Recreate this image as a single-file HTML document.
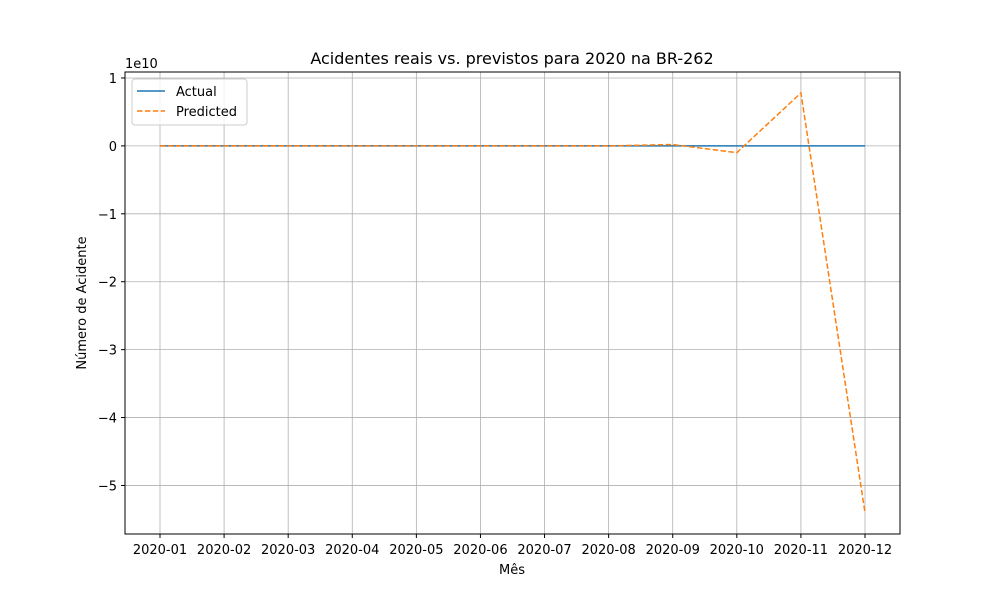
<!DOCTYPE html>
<html><head><meta charset="utf-8"><style>
body{margin:0;background:#fff;font-family:"Liberation Sans","DejaVu Sans",sans-serif}
</style></head><body>
<svg width="1000" height="600" xmlns="http://www.w3.org/2000/svg" font-family="DejaVu Sans, Liberation Sans, sans-serif">
<rect width="1000" height="600" fill="#fff"/>
<g id="grid"></g>
<g id="series"></g>
<rect x="125" y="72" width="775" height="462" fill="none" stroke="#000" stroke-width="1"/>
<g id="ticks" font-size="13"></g>
<text x="512" y="64" text-anchor="middle" font-size="16">Acidentes reais vs. previstos para 2020 na BR-262</text>
<text x="512" y="574" text-anchor="middle" font-size="13">Mês</text>
<text transform="translate(86,303) rotate(-90)" text-anchor="middle" font-size="13">Número de Acidente</text>
<text x="125" y="68" font-size="13">1e10</text>
<g>
<rect x="132" y="79" width="115" height="46" rx="3" fill="#fff" fill-opacity="0.8" stroke="#ccc"/>
<line x1="137" y1="91" x2="165" y2="91" stroke="#1f77b4" stroke-width="1.5"/>
<text x="176" y="96" font-size="13">Actual</text>
<line x1="137" y1="111" x2="165" y2="111" stroke="#ff7f0e" stroke-width="1.5" stroke-dasharray="5.5,2.4"/>
<text x="176" y="116" font-size="13">Predicted</text>
</g>
</svg>
<script>
const categories=["2020-01","2020-02","2020-03","2020-04","2020-05","2020-06","2020-07","2020-08","2020-09","2020-10","2020-11","2020-12"];
const actual=[0,0,0,0,0,0,0,0,0,0,0,0];
const predicted=[0,0,0,0,0,0,0,0,0.02,-0.1,0.78,-5.4];
const yTicks=[1,0,-1,-2,-3,-4,-5];
const yTickLabels=["1","0","\u22121","\u22122","\u22123","\u22124","\u22125"];
{
const NS="http://www.w3.org/2000/svg";
const x0=160,x1=865,yMin=-5.7147,yMax=1.088,yTop=72,yBot=534;
function xs(i){return x0+(x1-x0)*i/(categories.length-1);}
function ys(v){return yBot-(v-yMin)/(yMax-yMin)*(yBot-yTop);}
function mk(t,a,p){const e=document.createElementNS(NS,t);for(const k in a)e.setAttribute(k,a[k]);p.appendChild(e);return e;}
const grid=document.getElementById('grid'),ticks=document.getElementById('ticks'),ser=document.getElementById('series');
categories.forEach((c,i)=>{const x=xs(i);
 const g=mk('line',{x1:x,x2:x,y1:yTop,y2:yBot,stroke:'#b0b0b0','stroke-width':0.8},grid);
 
 
 mk('line',{x1:x,x2:x,y1:yBot,y2:yBot+4,stroke:'#000'},ticks);
 const t=mk('text',{x:x,y:yBot+20,'text-anchor':'middle'},ticks);t.textContent=c;
 
 });
yTicks.forEach((v,i)=>{const y=ys(v);
 const g=mk('line',{x1:125,x2:900,y1:y,y2:y,stroke:'#b0b0b0','stroke-width':0.8},grid);
 
 
 mk('line',{x1:121,x2:125,y1:y,y2:y,stroke:'#000'},ticks);
 const t=mk('text',{x:117,y:y+5,'text-anchor':'end'},ticks);t.textContent=yTickLabels[i];
 
 });
function pts(a){return a.map((v,i)=>xs(i)+','+ys(v)).join(' ');}
const la=mk('polyline',{points:pts(actual),fill:'none',stroke:'#1f77b4','stroke-width':1.5},ser);


const lp=mk('polyline',{points:pts(predicted),fill:'none',stroke:'#ff7f0e','stroke-width':1.5,'stroke-dasharray':'5.5,2.4'},ser);


}
</script>
</body></html>
